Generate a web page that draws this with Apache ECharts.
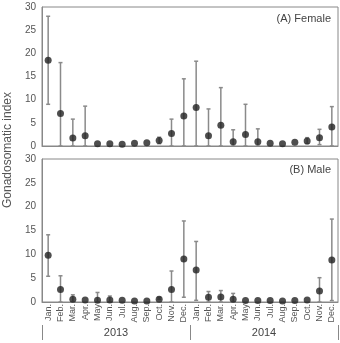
<!DOCTYPE html>
<html>
<head>
<meta charset="utf-8">
<script src="https://cdn.jsdelivr.net/npm/echarts@6/dist/echarts.min.js"></script>
<style>
html,body{margin:0;padding:0;background:#fff;}
#chart{width:340px;height:343px;}
</style>
</head>
<body>
<div id="chart"></div>
<script>
// months, two years
var months = ['Jan.','Feb.','Mar.','Apr.','May','Jun.','Jul.','Aug.','Sep.','Oct.','Nov.','Dec.',
              'Jan.','Feb.','Mar.','Apr.','May','Jun.','Jul.','Aug.','Sep.','Oct.','Nov.','Dec.'];
var years = ['2013', '2014'];

// (A) female: mean, lower, upper
var femaleMean = [18.5, 7.0, 1.7, 2.2, 0.5, 0.5, 0.4, 0.6, 0.7, 1.2, 2.7, 6.5, 8.3, 2.2, 4.5, 0.9, 2.5, 0.9, 0.6, 0.5, 0.8, 1.1, 1.8, 4.1];
var femaleLow  = [9.0, 0, 0, 0, 0.5, 0.5, 0.4, 0.6, 0.7, 0.5, 0, 0, 0, 0, 0, 0, 0, 0, 0.6, 0.5, 0.8, 0.5, 0.3, 0];
var femaleHigh = [28.0, 18.0, 5.8, 8.6, 0.5, 0.5, 0.4, 0.6, 0.7, 1.9, 5.8, 14.5, 18.3, 8.0, 12.6, 3.5, 9.0, 3.7, 0.6, 0.5, 0.8, 1.8, 3.6, 8.5];

// (B) male
var maleMean = [9.8, 2.6, 0.6, 0.4, 0.35, 0.4, 0.35, 0.2, 0.2, 0.6, 2.6, 9.0, 6.7, 1.0, 1.05, 0.6, 0.3, 0.3, 0.3, 0.2, 0.3, 0.4, 2.3, 8.8];
var maleLow  = [5.4, 0, 0, 0.4, 0, 0, 0.35, 0.2, 0.2, 0.6, 0, 1.0, 0.35, 0, 0, 0, 0.3, 0.3, 0.3, 0.2, 0.3, 0.4, 0, 0.3];
var maleHigh = [14.1, 5.5, 1.5, 0.4, 2.0, 1.25, 0.35, 0.2, 0.2, 1.0, 6.5, 17.0, 12.7, 2.2, 2.4, 1.8, 0.3, 0.3, 0.3, 0.2, 0.3, 0.4, 5.1, 17.4];

function errData(low, high) {
    return low.map(function (v, i) { return [i, v, high[i]]; });
}

function renderErr(params, api) {
    var lo = api.coord([api.value(0), api.value(1)]);
    var hi = api.coord([api.value(0), api.value(2)]);
    if (Math.abs(lo[1] - hi[1]) < 1) return null;
    var st = {stroke: '#8a8a8a', lineWidth: 1.5};
    return {
        type: 'group',
        children: [
            {type: 'line', shape: {x1: hi[0], y1: hi[1], x2: lo[0], y2: lo[1]}, style: st},
            {type: 'line', shape: {x1: hi[0] - 2, y1: hi[1], x2: hi[0] + 2, y2: hi[1]}, style: st},
            {type: 'line', shape: {x1: lo[0] - 2, y1: lo[1], x2: lo[0] + 2, y2: lo[1]}, style: st}
        ]
    };
}

var font = 'Liberation Sans, Arial, sans-serif';
var yAxisCommon = {
    type: 'value', min: 0, max: 30, interval: 5,
    axisLine: {show: true, lineStyle: {color: '#888'}},
    axisTick: {show: false},
    splitLine: {show: false},
    axisLabel: {color: '#555', fontSize: 10, fontFamily: font, margin: 6}
};

var option = {
    animation: false,
    backgroundColor: '#fff',
    grid: [
        {left: 42, right: 2, top: 7, height: 139, show: true, borderColor: '#888', borderWidth: 1},
        {left: 42, right: 2, top: 159, height: 143, show: true, borderColor: '#888', borderWidth: 1}
    ],
    xAxis: [
        {
            type: 'category', gridIndex: 0, data: months,
            axisLine: {lineStyle: {color: '#888'}},
            axisTick: {inside: true, length: 3, lineStyle: {color: '#888'}},
            axisLabel: {show: false}
        },
        {
            type: 'category', gridIndex: 1, data: months,
            axisLine: {lineStyle: {color: '#888'}},
            axisTick: {length: 23, interval: 0, lineStyle: {color: '#888'}},
            axisLabel: {rotate: 90, interval: 0, color: '#555', fontSize: 9, fontFamily: font, margin: 2}
        },
        {
            type: 'category', gridIndex: 1, data: years, position: 'bottom', offset: 23,
            axisLine: {show: false},
            axisTick: {show: true, length: 15, lineStyle: {color: '#888'}},
            axisLabel: {color: '#444', fontSize: 11, fontFamily: font, margin: 2}
        }
    ],
    yAxis: [
        Object.assign({gridIndex: 0}, yAxisCommon),
        Object.assign({gridIndex: 1}, yAxisCommon)
    ],
    graphic: [
        {type: 'text', x: 8, y: 150, rotation: Math.PI / 2,
         style: {text: 'Gonadosomatic index', fill: '#555', font: '12px ' + font, align: 'center', verticalAlign: 'middle'}},
        {type: 'text', x: 331, y: 19,
         style: {text: '(A) Female', fill: '#444', font: '11px ' + font, align: 'right', verticalAlign: 'middle'}},
        {type: 'text', x: 331, y: 170,
         style: {text: '(B) Male', fill: '#444', font: '11px ' + font, align: 'right', verticalAlign: 'middle'}}
    ],
    series: [
        {type: 'custom', xAxisIndex: 0, yAxisIndex: 0, renderItem: renderErr, data: errData(femaleLow, femaleHigh), z: 2},
        {type: 'scatter', xAxisIndex: 0, yAxisIndex: 0, data: femaleMean, symbolSize: 7,
         itemStyle: {color: '#222'}, z: 3},
        {type: 'custom', xAxisIndex: 1, yAxisIndex: 1, renderItem: renderErr, data: errData(maleLow, maleHigh), z: 2},
        {type: 'scatter', xAxisIndex: 1, yAxisIndex: 1, data: maleMean, symbolSize: 7,
         itemStyle: {color: '#222'}, z: 3}
    ]
};

var mychart = echarts.init(document.getElementById('chart'));
mychart.setOption(option);
</script>
</body>
</html>
